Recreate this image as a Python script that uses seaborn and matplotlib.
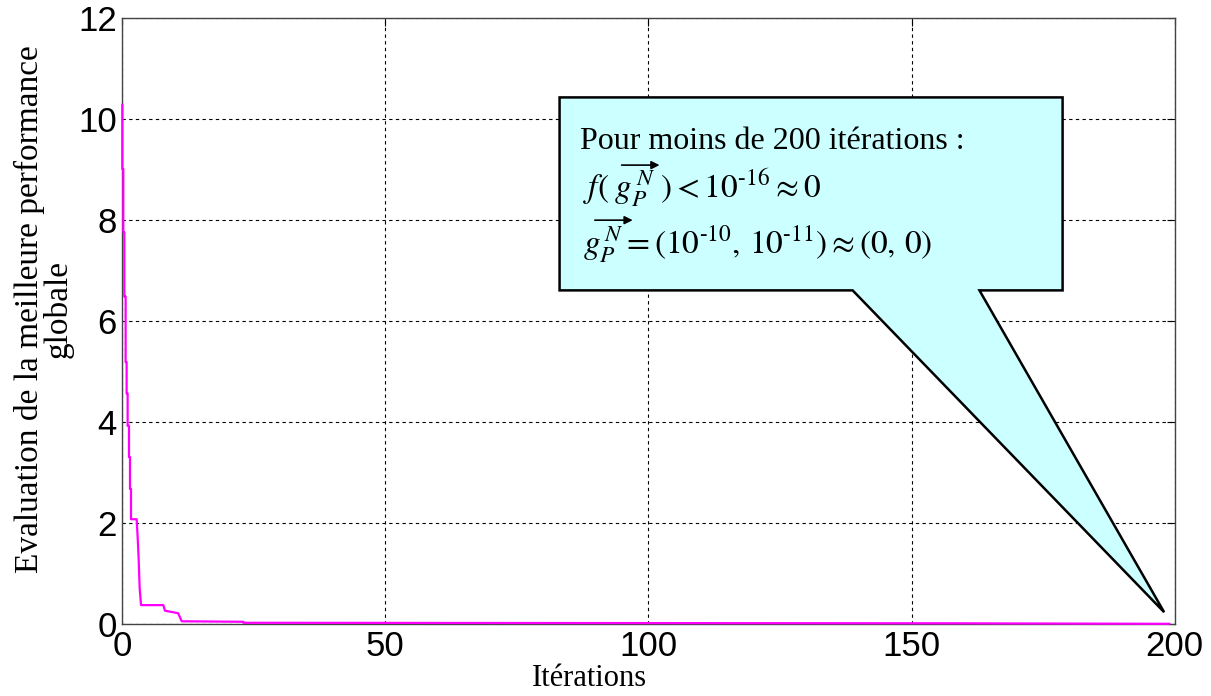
import matplotlib
matplotlib.use("Agg")
import matplotlib.pyplot as plt
from matplotlib.patches import Polygon
import seaborn as sns

# best global performance per iteration
iterations = [0, 0, 0.19, 0.19, 0.38, 0.38, 0.63, 0.63, 0.82, 0.82, 1.01, 1.01,
              1.27, 1.27, 1.46, 1.46, 1.65, 1.65, 2.73, 2.92, 3.11, 3.30, 3.56,
              7.8, 8.1, 10.6, 11.3, 23, 23, 158, 199]
best_value = [10.29, 9.01, 9.01, 7.76, 7.76, 6.49, 6.49, 5.19, 5.19, 4.57, 4.57, 3.93,
              3.93, 3.31, 3.31, 2.68, 2.68, 2.08, 2.08, 1.72, 1.28, 0.71, 0.38,
              0.38, 0.27, 0.22, 0.06, 0.05, 0.03, 0.02, 0.01]

x_ticks = [0, 50, 100, 150, 200]
y_ticks = [0, 2, 4, 6, 8, 10, 12]

sns.set_style("white")
plt.rcParams.update({
    "mathtext.fontset": "stix",
    "text.color": "black",
    "axes.labelcolor": "black",
    "xtick.color": "black",
    "ytick.color": "black",
})

fig = plt.figure(figsize=(12.11, 6.96), dpi=100)
ax = fig.add_axes([0.101, 0.103, 0.869, 0.871])

sns.lineplot(x=iterations, y=best_value, sort=False, estimator=None,
             color="#ff00ff", linewidth=1.6, ax=ax)
for ln in ax.get_lines():
    ln.set_zorder(3)
    ln.set_clip_on(False)

ax.set_xlim(0, 200)
ax.set_ylim(0, 12)
ax.set_xticks(x_ticks)
ax.set_yticks(y_ticks)
ax.grid(True, color="black", linestyle=(0, (3, 3)), linewidth=0.8)
for s in ax.spines.values():
    s.set_color("#444444")
    s.set_linewidth(1.0)
ax.tick_params(direction="in", length=6, top=True, right=True,
               labelsize=25, pad=4)
for lbl in ax.get_xticklabels() + ax.get_yticklabels():
    lbl.set_family("Liberation Sans")

ax.set_xlabel("Itérations", family="Liberation Serif", fontsize=22)
ax.xaxis.set_label_coords(0.444, -0.065)
ax.set_ylabel("Evaluation de la meilleure performance\nglobale",
              family="Liberation Serif", fontsize=24, linespacing=0.9)
ax.yaxis.set_label_coords(-0.046, 0.52)

# callout box pointing at the end of the run
callout = Polygon([(83.1, 10.43), (178.7, 10.43), (178.7, 6.61), (162.9, 6.61),
                   (198.0, 0.24), (138.8, 6.61), (83.1, 6.61)],
                  closed=True, facecolor="#ccffff", edgecolor="black",
                  linewidth=1.8, joinstyle="miter", zorder=5)
ax.add_patch(callout)

ax.text(86.9, 9.41, "Pour moins de 200 itérations :", family="Liberation Serif",
        fontsize=23, zorder=6)
ax.text(87.5, 8.44, r"$f(\;g_P^{\,N}\;) < 10^{\text{-}16} \approx 0$",
        fontsize=24, zorder=6)
ax.text(87.5, 7.34, r"$g_P^{\,N} = (10^{\text{-}10},\, 10^{\text{-}11}) \approx (0,\, 0)$",
        fontsize=24, zorder=6)

# vector arrows over g
arrow_style = dict(arrowstyle="-|>", lw=1.2, color="black", mutation_scale=12,
                   shrinkA=0, shrinkB=0)
ax.annotate("", xy=(102.1, 9.09), xytext=(94.9, 9.09), arrowprops=arrow_style, zorder=6)
ax.annotate("", xy=(97.0, 8.0), xytext=(89.8, 8.0), arrowprops=arrow_style, zorder=6)

fig.savefig("out.png", dpi=100)
